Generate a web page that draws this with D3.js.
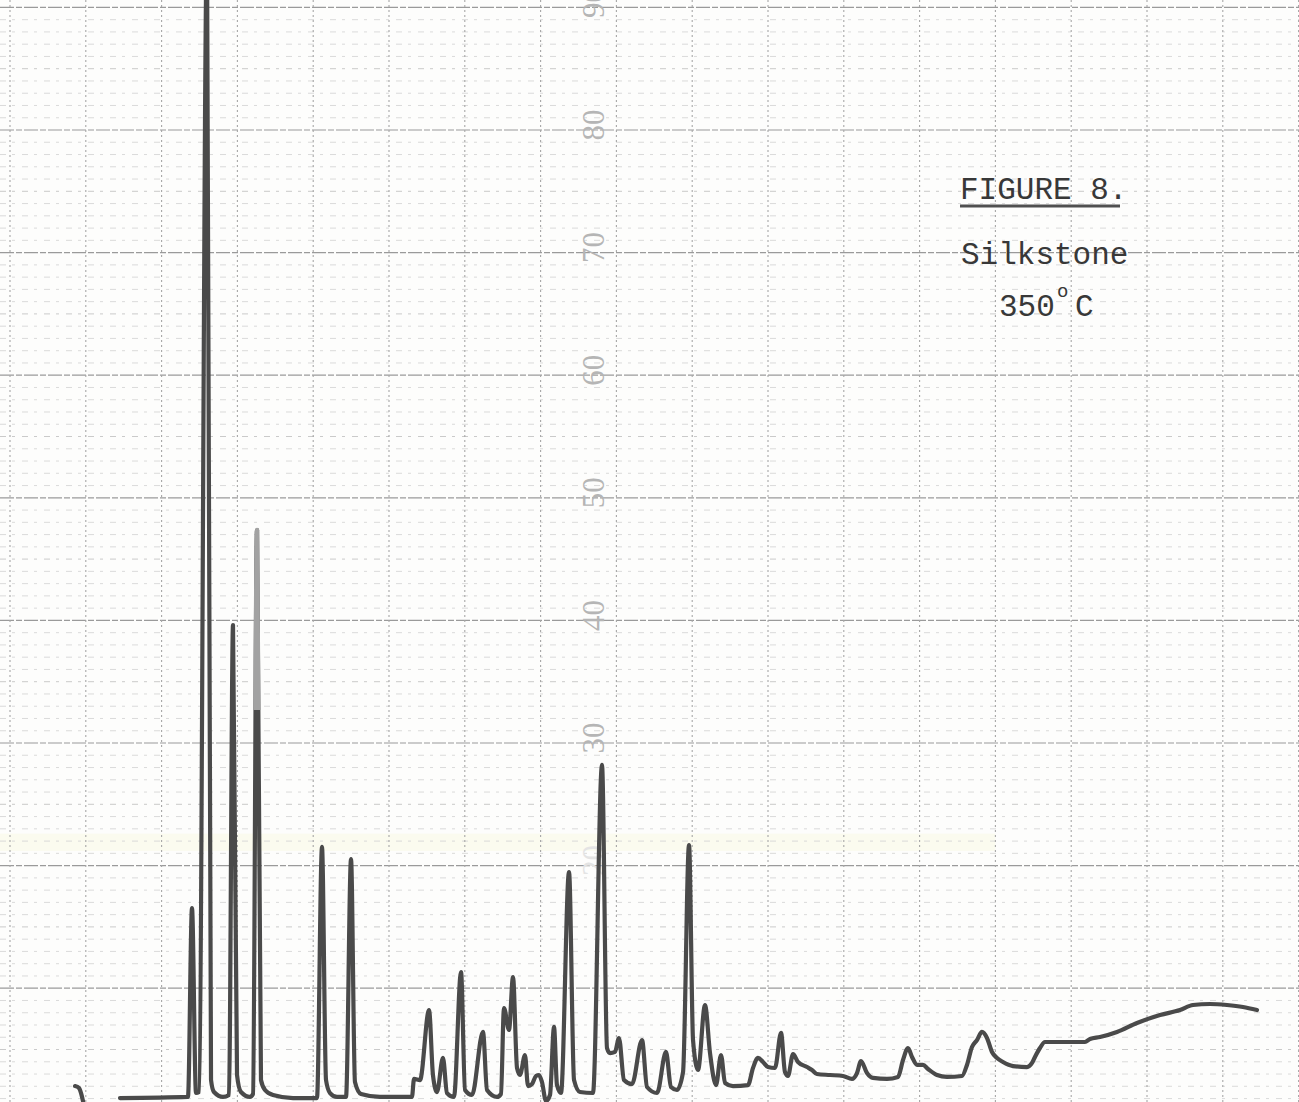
<!DOCTYPE html>
<html>
<head>
<meta charset="utf-8">
<script src="https://cdn.jsdelivr.net/npm/d3@7"></script>
<style>
  html, body { margin: 0; padding: 0; background: #fdfdfc; }
  svg { display: block; }
</style>
</head>
<body>
<div id="chart"></div>
<script>
// Chart paper: one vertical division per chart-time unit, one horizontal rule per percent.
const timeDivisions = d3.range(0, 18);          // vertical rulings
const percentRules = d3.range(0, 91);           // horizontal rulings
const scaleLabels = [20, 30, 40, 50, 60, 70, 80, 90];

// Pen trace: [chart divisions, percent of full scale]
const penStart = [
  [0.858, 2.02], [0.910, 1.86], [0.937, 1.45], [0.963, 0.80]
];

const trace = [
  [1.451, 1.04], [2.348, 1.13], [2.401, 16.54], [2.454, 1.45], [2.493, 1.53],
  [2.599, 95.0], [2.652, 2.51], [2.691, 1.53], [2.810, 1.13], [2.889, 1.29],
  [2.942, 39.62], [2.995, 2.92], [3.047, 1.53], [3.166, 1.13], [3.206, 1.37],
  [3.259, 47.37], [3.311, 2.51], [3.364, 1.70], [3.470, 1.29], [3.734, 1.04],
  [4.050, 1.04], [4.116, 21.52], [4.169, 2.51], [4.222, 1.45], [4.314, 1.13],
  [4.433, 1.13], [4.499, 20.54], [4.551, 2.35], [4.631, 1.37], [4.881, 1.13],
  [5.303, 1.13], [5.330, 2.60], [5.409, 2.51], [5.528, 8.22], [5.580, 2.92],
  [5.633, 1.53], [5.712, 4.31], [5.765, 1.45], [5.857, 1.13], [5.950, 11.32],
  [6.003, 1.70], [6.095, 1.29], [6.240, 6.43], [6.293, 1.70], [6.425, 1.13],
  [6.477, 1.37], [6.517, 8.38], [6.583, 6.59], [6.636, 10.91], [6.689, 3.49],
  [6.728, 2.92], [6.794, 4.55], [6.834, 2.02], [6.887, 2.18], [6.939, 2.84],
  [6.979, 2.92], [7.018, 2.35], [7.071, 0.80], [7.124, 1.29], [7.177, 6.84],
  [7.216, 2.10], [7.269, 1.45], [7.375, 19.48], [7.441, 2.51], [7.520, 1.53],
  [7.691, 1.45], [7.810, 28.21], [7.876, 5.12], [7.916, 4.71], [7.982, 4.80],
  [8.034, 5.94], [8.100, 2.51], [8.206, 2.18], [8.338, 5.77], [8.404, 1.94],
  [8.536, 1.45], [8.654, 4.80], [8.720, 1.94], [8.799, 1.70], [8.879, 3.16],
  [8.958, 21.68], [9.011, 5.77], [9.077, 3.33], [9.169, 8.63], [9.235, 4.71],
  [9.314, 2.10], [9.380, 4.55], [9.433, 2.27], [9.538, 2.02], [9.736, 2.10],
  [9.802, 3.49], [9.868, 4.31], [9.934, 3.98], [10.000, 3.57], [10.092, 3.49],
  [10.172, 6.35], [10.224, 3.16], [10.264, 2.84], [10.330, 4.63], [10.396, 3.98],
  [10.515, 3.57], [10.580, 3.33], [10.646, 3.00], [10.818, 2.92], [10.989, 2.84],
  [11.108, 2.60], [11.174, 3.08], [11.227, 4.06], [11.306, 3.08], [11.385, 2.68],
  [11.570, 2.60], [11.715, 2.76], [11.781, 4.14], [11.847, 5.12], [11.900, 4.39],
  [11.966, 3.74], [12.045, 3.74], [12.111, 3.41], [12.230, 2.92], [12.361, 2.76],
  [12.559, 2.84], [12.625, 3.74], [12.691, 5.20], [12.757, 5.77], [12.823, 6.43],
  [12.889, 5.94], [12.955, 4.80], [13.021, 4.31], [13.100, 3.98], [13.232, 3.65],
  [13.417, 3.57], [13.483, 3.90], [13.522, 4.39], [13.588, 5.12], [13.654, 5.61],
  [13.852, 5.61], [14.182, 5.61], [14.248, 5.86], [14.380, 6.02], [14.604, 6.43],
  [14.868, 7.16], [15.172, 7.81], [15.435, 8.22], [15.607, 8.63], [15.831, 8.71],
  [16.055, 8.63], [16.266, 8.47], [16.451, 8.22]
];

const width = 1299, height = 1102;

const x = d3.scaleLinear().domain([0, 17]).range([10, 10 + 17 * 75.8]);
const y = d3.scaleLinear().domain([0, 90]).range([1110.8, 7.4]);

const svg = d3.select("#chart").append("svg")
  .attr("width", width).attr("height", height);

svg.append("rect").attr("width", width).attr("height", height).attr("fill", "#fdfdfc");

// faint yellowish stain across the paper
svg.append("rect")
  .attr("x", 0).attr("y", y(22.6)).attr("width", x(13)).attr("height", y(21.2) - y(22.6))
  .attr("fill", "#fafae6").attr("opacity", 0.6);

const defs = svg.append("defs");
defs.append("clipPath").attr("id", "plot")
  .append("rect").attr("x", 0).attr("y", 0).attr("width", width).attr("height", height);

// horizontal rulings
const grid = svg.append("g");
grid.selectAll("line.h").data(percentRules).join("line")
  .attr("x1", 0).attr("x2", width)
  .attr("y1", d => y(d)).attr("y2", d => y(d))
  .attr("stroke", d => d % 10 === 0 ? "#9a9a9a" : (d % 5 === 0 ? "#c4c4c4" : "#d6d6d6"))
  .attr("stroke-width", d => d % 10 === 0 ? 1.2 : 0.9)
  .attr("stroke-dasharray", d => d % 10 === 0 ? "14,2,6,2" : "6,6,3,7");

// vertical rulings
grid.selectAll("line.v").data(timeDivisions).join("line")
  .attr("x1", d => x(d)).attr("x2", d => x(d))
  .attr("y1", 0).attr("y2", height)
  .attr("stroke", "#a6a6a6")
  .attr("stroke-width", 1.1)
  .attr("stroke-dasharray", "2,3");

// printed percent scale along one column
svg.append("g").selectAll("text").data(scaleLabels).join("text")
  .attr("transform", d => `translate(${x(7.7)},${y(d) - 5}) rotate(-90)`)
  .attr("text-anchor", "middle")
  .attr("dominant-baseline", "central")
  .attr("font-family", "Liberation Serif, serif")
  .attr("font-size", 31)
  .attr("fill", d => d === 20 ? "#e4e4e4" : "#b5b5b5")
  .text(d => d);

// pen trace
const line = d3.line()
  .x(d => x(d[0]))
  .y(d => y(d[1]))
  .curve(d3.curveMonotoneX);

const traceGroup = svg.append("g").attr("clip-path", "url(#plot)");

[penStart, trace].forEach(seg => {
  traceGroup.append("path")
    .datum(seg)
    .attr("d", line)
    .attr("fill", "none")
    .attr("stroke", "#4a4a4a")
    .attr("stroke-width", 4.2)
    .attr("stroke-linejoin", "round")
    .attr("stroke-linecap", "round");
});

// the pen ran faint near the top of one peak
defs.append("clipPath").attr("id", "faint")
  .append("rect")
  .attr("x", x(3.18)).attr("y", 0)
  .attr("width", x(3.34) - x(3.18))
  .attr("height", y(32.7));
svg.append("path")
  .datum(trace)
  .attr("d", line)
  .attr("clip-path", "url(#faint)")
  .attr("fill", "none")
  .attr("stroke", "#a2a2a2")
  .attr("stroke-width", 4.4)
  .attr("stroke-linejoin", "round");

// typed caption
const cap = svg.append("g")
  .attr("font-family", "Liberation Mono, DejaVu Sans Mono, monospace")
  .attr("fill", "#383838");

cap.append("text").attr("x", 960).attr("y", 199).attr("font-size", 31).text("FIGURE 8.");
cap.append("line")
  .attr("x1", 960).attr("x2", 1120).attr("y1", 206).attr("y2", 206)
  .attr("stroke", "#505050").attr("stroke-width", 3);
cap.append("text").attr("x", 961).attr("y", 264).attr("font-size", 31).text("Silkstone");
cap.append("text").attr("x", 999).attr("y", 316).attr("font-size", 31).text("350");
cap.append("text").attr("x", 1057).attr("y", 297).attr("font-size", 19).text("o");
cap.append("text").attr("x", 1075).attr("y", 316).attr("font-size", 31).text("C");
</script>
</body>
</html>
